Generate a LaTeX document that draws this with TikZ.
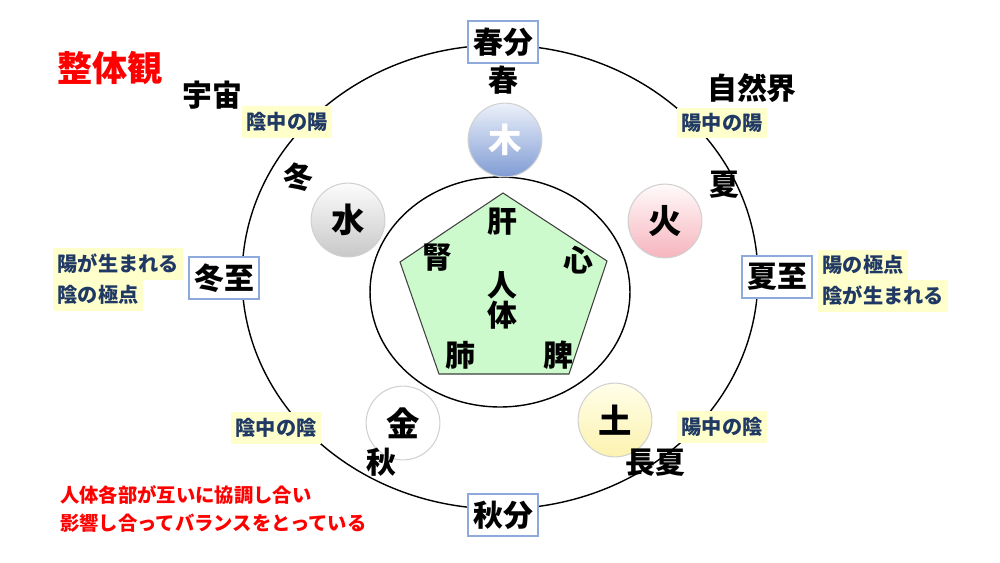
\documentclass[tikz,border=0pt]{standalone}
\usepackage{fontspec}
\setmainfont{Noto Sans CJK JP}
\usetikzlibrary{positioning}
\definecolor{boxBlue}{RGB}{142,169,219}
\definecolor{noteNavy}{RGB}{31,56,100}
\definecolor{noteYellow}{RGB}{255,255,204}
\definecolor{bodyGreen}{RGB}{204,250,204}
\definecolor{woodTop}{RGB}{236,241,250}
\definecolor{woodBot}{RGB}{128,156,212}
\definecolor{fireTop}{RGB}{255,250,250}
\definecolor{fireBot}{RGB}{246,180,190}
\definecolor{waterTop}{RGB}{252,252,252}
\definecolor{waterBot}{RGB}{200,200,200}
\definecolor{earthTop}{RGB}{255,254,232}
\definecolor{earthBot}{RGB}{252,242,176}
\tikzset{
  season/.style={draw=boxBlue,line width=1pt,fill=white,font=\bfseries\fontsize{17}{17}\selectfont,inner xsep=3pt,minimum height=24pt},
  note/.style={fill=noteYellow,text=noteNavy,font=\bfseries\fontsize{11.5}{11.5}\selectfont,inner xsep=2.5pt,minimum height=16pt},
  word/.style={font=\bfseries\fontsize{17}{17}\selectfont},
  elem/.style={circle,minimum size=42pt,inner sep=0pt,draw=black!18,line width=0.6pt,font=\bfseries\fontsize{19}{19}\selectfont},
  alert/.style={text=red,font=\bfseries\fontsize{11}{15.5}\selectfont}
}
\begin{document}
\begin{tikzpicture}[x=0.02cm,y=-0.02cm]
  \useasboundingbox (0,0) rectangle (1000,562);
  \draw[line width=0.8pt] (500,277) ellipse [x radius=5.16cm,y radius=4.64cm];
  \draw[line width=0.8pt] (500,292) ellipse [x radius=2.6cm,y radius=2.3cm];
  % pentagon of the body
  \coordinate (p1) at (503,193);
  \coordinate (p2) at (607,261);
  \coordinate (p3) at (569,374);
  \coordinate (p4) at (439,374);
  \coordinate (p5) at (400,262);
  \draw[fill=bodyGreen,draw=black!75,line width=0.6pt] (p1) -- (p2) -- (p3) -- (p4) -- (p5) -- cycle;
  \foreach \n/\t/\px/\py in {kan/肝/502/222,jin/腎/437/258,shin/心/578/260,hai/肺/460/355,hi/脾/558/355}
    \node[word] (\n) at (\px,\py) {\t};
  \node[word,align=center] (jintai) at (502,300) {人\\体};
  % five elements
  \foreach \n/\t/\px/\py/\ct/\cb/\tc in {moku/木/505/140/woodTop/woodBot/white,ka/火/665/221/fireTop/fireBot/black,
      sui/水/348/220/waterTop/waterBot/black,kin/金/403/423/white/white/black,do/土/615/420/earthTop/earthBot/black}
    \node[elem,top color=\ct,bottom color=\cb,text=\tc] (\n) at (\px,\py) {\t};
  % seasons on the outer circle
  \foreach \n/\t/\px/\py in {shunbun/春分/503/42,shubun/秋分/503/515,toji/冬至/224/278,geshi/夏至/777/277}
    \node[season] (\n) at (\px,\py) {\t};
  \foreach \n/\t/\px/\py in {haru/春/503/80,fuyu/冬/298/177,natsu/夏/724/185,aki/秋/381/462,
      doyo/長夏/655/463,uchu/宇宙/212/95,shizen/自然界/752/88}
    \node[word] (\n) at (\px,\py) {\t};
  \foreach \n/\t/\px/\py in {inyo/陰中の陽/287/122,yoyo/陽中の陽/722/123,inin/陰中の陰/276/428,yoin/陽中の陰/722/427}
    \node[note] (\n) at (\px,\py) {\t};
  \node[note,anchor=west] (yokyoku) at (818,265) {陽の極点};
  \node[note,anchor=west] (inumare) at (818,296) {陰が生まれる};
  \node[note,anchor=west] (youmare) at (53,264) {陽が生まれる};
  \node[note,anchor=west] (inkyoku) at (53,295) {陰の極点};
  % titles
  \node[text=red,font=\bfseries\fontsize{20}{20}\selectfont] (title) at (110,68) {整体観};
  \node[alert,anchor=west,align=left] (memo) at (54,509) {人体各部が互いに協調し合い\\影響し合ってバランスをとっている};
\end{tikzpicture}
\end{document}
